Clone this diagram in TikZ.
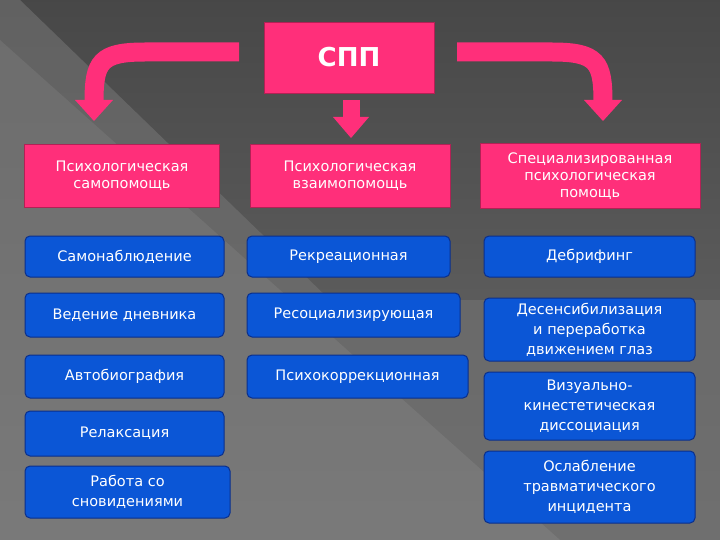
\documentclass[tikz,border=0pt]{standalone}
\usepackage{fontspec}
\setmainfont{DejaVu Sans}
\definecolor{pinkc}{HTML}{FF2F7A}
\definecolor{bluec}{HTML}{0B56D6}
\definecolor{blued}{HTML}{0A2F8C}
\begin{document}
\begin{tikzpicture}[x=1pt,y=-1pt,
  pbox/.style={fill=pinkc,draw=pinkc!70!black,line width=0.6pt,text=white,align=center,font=\fontsize{14.5}{17}\selectfont,inner sep=0pt},
  bbox/.style={fill=bluec,draw=blued,line width=1pt,rounded corners=5pt,text=white,align=center,font=\fontsize{14.5}{20}\selectfont,inner sep=0pt},
  arr/.style={pinkc,line width=19pt},
  head/.style={fill=pinkc}]
\useasboundingbox (0,0) rectangle (720,540);
\shade[top color=black!72,bottom color=black!58] (0,0) rectangle (720,540);
\fill[black!55,opacity=0.6] (0,0) -- (20,0) -- (330,300) -- (720,300) -- (720,540) -- (0,540) -- cycle;
\fill[white,opacity=0.07] (0,40) -- (0,540) -- (560,540) -- cycle;
% top
\node[pbox,minimum width=170pt,minimum height=71pt,font=\fontsize{26}{28}\selectfont\bfseries] (spp) at (349,57.5) {СПП};
\node[pbox,minimum width=195pt,minimum height=63pt] (p1) at (122,176) {Психологическая\\самопомощь};
\node[pbox,minimum width=200pt,minimum height=63pt] (p2) at (350,176) {Психологическая\\взаимопомощь};
\node[pbox,minimum width=220pt,minimum height=65pt] (p3) at (590,176) {Специализированная\\психологическая\\помощь};
% arrows
\coordinate (la) at (94,102);
\coordinate (ra) at (603,102);
\draw[arr] (239,52) -- (145,52) .. controls (100,52) and (94,62) .. (la);
\fill[head] (75,100) -- (113,100) -- (94,121) -- cycle;
\draw[arr] (457,52) -- (552,52) .. controls (597,52) and (603,62) .. (ra);
\fill[head] (584,100) -- (622,100) -- (603,121) -- cycle;
\draw[pinkc,line width=17pt] (351,100) -- (351,119);
\fill[head] (333,117) -- (369,117) -- (351,138) -- cycle;
% column 1
\node[bbox,minimum width=199pt,minimum height=41pt] (a1) at (124.5,256.5) {Самонаблюдение};
\node[bbox,minimum width=199pt,minimum height=44pt] (a2) at (124.5,315) {Ведение дневника};
\node[bbox,minimum width=199pt,minimum height=43pt] (a3) at (124.5,376.5) {Автобиография};
\node[bbox,minimum width=199pt,minimum height=45pt] (a4) at (124.5,433.5) {Релаксация};
\node[bbox,minimum width=205pt,minimum height=52pt] (a5) at (127.5,492) {Работа со\\сновидениями};
% column 2
\node[bbox,minimum width=203pt,minimum height=41pt] (b1) at (348.5,256.5) {Рекреационная};
\node[bbox,minimum width=213pt,minimum height=44pt] (b2) at (353.5,315) {Ресоциализирующая};
\node[bbox,minimum width=221pt,minimum height=43pt] (b3) at (357.5,376.5) {Психокоррекционная};
% column 3
\node[bbox,minimum width=211pt,minimum height=41pt] (c1) at (589.5,256.5) {Дебрифинг};
\node[bbox,minimum width=211pt,minimum height=63pt] (c2) at (589.5,329.5) {Десенсибилизация\\и переработка\\движением глаз};
\node[bbox,minimum width=211pt,minimum height=68pt] (c3) at (589.5,406) {Визуально-\\кинестетическая\\диссоциация};
\node[bbox,minimum width=211pt,minimum height=72pt] (c4) at (589.5,487) {Ослабление\\травматического\\инцидента};
\end{tikzpicture}
\end{document}
